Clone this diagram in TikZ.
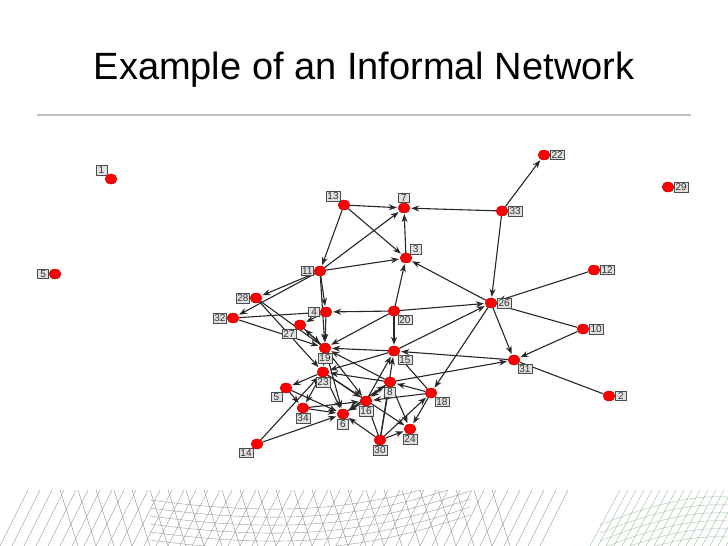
\documentclass[tikz,border=0pt]{standalone}
\usepackage{fontspec}
\setmainfont{Liberation Sans}
\usetikzlibrary{positioning,arrows.meta,shapes.geometric,backgrounds}

\begin{document}
\begin{tikzpicture}[x=1pt,y=-1pt,
    dot/.style = {draw=red!70!black, fill=red, ellipse, inner sep=0pt, minimum width=12pt, minimum height=10pt},
    lbl/.style = {draw=black!70, fill=black!12, inner sep=1.2pt, minimum width=11pt, font=\fontsize{10}{11}\selectfont, text=black!80},
    edge/.style = {-{Stealth[length=8pt,width=6pt,open]}, line width=1.1pt, black!85, shorten >=1pt},
    line/.style = {line width=1.1pt, black!85}]
  \useasboundingbox (0,0) rectangle (728,546);
  \node[font=\fontsize{38}{42}\selectfont] (title) at (364,70) {Example of an Informal Network};
  \draw[black!25, line width=1.5pt] (37,115) -- (691,115);
  % bottom decoration
  \begin{scope}
    \clip (0,490) rectangle (728,546);
    \foreach \x in {0,12,...,540} \draw[black!45, thin] (\x,546) -- (\x+28,490);
    \foreach \x in {60,78,...,500} \draw[black!45, thin] (\x,490) -- (\x+18,546);
    \foreach \y in {500,508,...,540} \draw[black!40, thin] (150,\y) .. controls (300,\y+20) and (380,\y+5) .. (470,\y-25);
    \foreach \x in {590,598,...,728} \draw[green!30!black!40, thin] (\x,546) -- (\x+30,490);
    \foreach \y in {505,513,...,545} \draw[green!30!black!35, thin] (600,\y+20) .. controls (650,\y) and (690,\y-10) .. (728,\y-8);
  \end{scope}
  % vertices
  \foreach \n/\x/\y/\d/\t in {
      1/111/179/above left/1, 35/55/274/left/5, 13/344/205/above left/13,
      7/404/208/above/7, 33/502/211/right/33, 22/544/155/right/22,
      29/668/187/right/29, 3/406/258/above right/3, 11/320/271/left/11,
      12/594/270/right/12, 28/256/298/left/28, 26/491/303/right/26,
      32/233/318/left/32, 4/326/312/left/4, 20/394/311/below right/20,
      27/300/325/below left/27, 10/583/329/right/10, 19/325/348/below/19,
      15/394/351/below right/15, 31/514/360/below right/31, 23/323/372/below/23,
      8/390/382/below/8, 5/286/388/below left/5, 18/431/393/below right/18,
      16/366/401/below/16, 34/303/408/below/34, 6/343/414/below/6,
      24/410/429/below/24, 30/380/440/below/30, 14/257/444/below left/14,
      2/609/396/right/2}
    \node[dot, label={[lbl, label distance=0pt]\d:\t}] (n\n) at (\x,\y) {};
  \begin{scope}[on background layer]
  % directed ties
  \foreach \a/\b in {13/7, 13/3, 13/11, 11/7, 11/3, 3/7, 33/7, 33/22, 33/26,
      26/3, 12/26, 10/31, 26/31, 26/18, 20/26, 15/26, 8/31, 31/15, 20/3,
      20/4, 32/4, 11/28, 11/32, 11/4, 11/19, 28/23, 4/27, 19/27, 4/19,
      20/19, 20/15, 15/19, 15/23, 19/23, 19/16, 19/6, 23/5, 23/34, 23/6,
      23/16, 23/24, 8/19, 8/23, 8/16, 8/6, 8/24, 18/8, 18/15, 18/16, 18/24,
      30/18, 30/24, 30/6, 30/16, 30/15, 30/8, 14/6, 14/23, 5/34, 5/6, 34/6,
      16/6, 16/15, 6/8, 34/16, 32/19, 27/19}
    \draw[edge] (n\a) -- (n\b);
  % undirected ties
  \draw[line] (n26) -- (n10);
  \draw[line] (n31) -- (n2);
  \draw[line] (n28) -- (n19);
  \end{scope}
\end{tikzpicture}
\end{document}
